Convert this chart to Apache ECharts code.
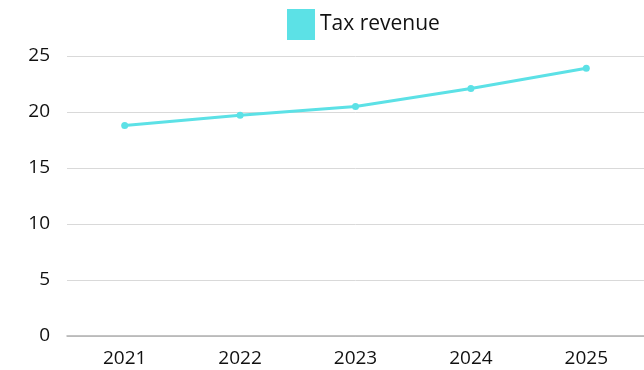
<!DOCTYPE html>
<html>
<head>
<meta charset="utf-8">
<script src="https://cdn.jsdelivr.net/npm/echarts@6/dist/echarts.min.js"></script>
<style>
  html, body { margin: 0; padding: 0; background: #ffffff; }
  #chart { width: 644px; height: 370px; }
</style>
</head>
<body>
<div id="chart"></div>
<script>
// Annual tax revenue
const years = ['2021', '2022', '2023', '2024', '2025'];
const taxRevenue = [18.8, 19.7, 20.5, 22.1, 23.9];
const seriesName = 'Tax revenue';

const chart = echarts.init(document.getElementById('chart'), null, { renderer: 'canvas' });

const textFont = '"Open Sans", "Noto Sans", sans-serif';

chart.setOption({
  animation: false,
  backgroundColor: '#ffffff',
  legend: {
    data: [{ name: seriesName, icon: 'rect' }],
    top: 4,
    left: 282,
    itemWidth: 28,
    itemHeight: 31,
    itemGap: 10,
    textStyle: { fontSize: 21, color: '#111111', fontFamily: textFont }
  },
  grid: { left: 67, right: 0, top: 56, bottom: 34, containLabel: false },
  xAxis: {
    type: 'category',
    data: years,
    boundaryGap: true,
    axisLine: { show: true, lineStyle: { color: '#b0b0b0', width: 1.5 } },
    axisTick: { show: false },
    axisLabel: { fontSize: 19, color: '#111111', margin: 13, fontFamily: textFont }
  },
  yAxis: {
    type: 'value',
    min: 0,
    max: 25,
    interval: 5,
    axisLine: { show: false },
    axisTick: { show: false },
    splitLine: { lineStyle: { color: '#d9d9d9', width: 1 } },
    axisLabel: { fontSize: 19, color: '#111111', margin: 17, fontFamily: textFont }
  },
  series: [{
    name: seriesName,
    type: 'line',
    data: taxRevenue,
    color: '#5ce1e6',
    symbol: 'circle',
    symbolSize: 7,
    lineStyle: { width: 3, color: '#5ce1e6' },
    itemStyle: { color: '#5ce1e6' }
  }]
});
</script>
</body>
</html>
